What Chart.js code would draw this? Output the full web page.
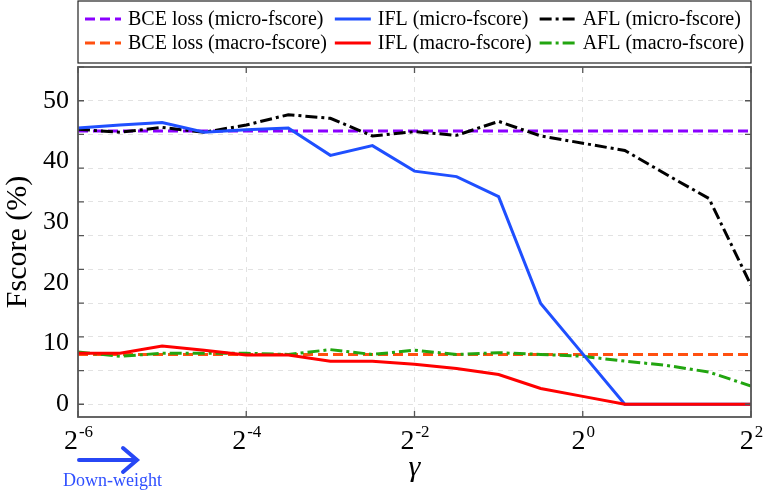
<!DOCTYPE html>
<html>
<head>
<meta charset="utf-8">
<script src="https://cdn.jsdelivr.net/npm/chart.js@4.4.0/dist/chart.umd.min.js"></script>
<style>
  html, body { margin: 0; padding: 0; background: #fff; }
  #wrap { width: 764px; height: 492px; }
</style>
</head>
<body>
<div id="wrap"><canvas id="fscorechart"></canvas></div>
<script>
// x values are log2(gamma)
var gammaexp = [-6, -5.5, -5, -4.5, -4, -3.5, -3, -2.5, -2, -1.5, -1, -0.5, 0, 0.5, 1, 1.5, 2];

var bcemicro = [45.0, 45.0, 45.0, 45.0, 45.0, 45.0, 45.0, 45.0, 45.0, 45.0, 45.0, 45.0, 45.0, 45.0, 45.0, 45.0, 45.0];
var iflmicro = [45.5, 46.0, 46.4, 44.8, 45.2, 45.5, 41.0, 42.6, 38.4, 37.5, 34.2, 16.6, 8.3, 0, 0, 0, 0];
var aflmicro = [45.3, 44.8, 45.6, 44.8, 46.0, 47.7, 47.1, 44.2, 44.9, 44.3, 46.6, 44.2, 43.0, 41.8, 37.8, 33.9, 19.6];
var bcemacro = [8.2, 8.2, 8.2, 8.2, 8.2, 8.2, 8.2, 8.2, 8.2, 8.2, 8.2, 8.2, 8.2, 8.2, 8.2, 8.2, 8.2];
var iflmacro = [8.4, 8.4, 9.6, 8.9, 8.1, 8.1, 7.1, 7.1, 6.6, 5.9, 4.9, 2.6, 1.3, 0, 0, 0, 0];
var aflmacro = [8.6, 7.9, 8.4, 8.4, 8.4, 8.2, 9.0, 8.2, 8.9, 8.2, 8.5, 8.2, 7.9, 7.1, 6.4, 5.3, 3.0];

var xtickexp = [-6, -4, -2, 0, 2];
var ylabels = [0, 10, 20, 30, 40, 50];
var ystep = 50 / 9;   // gridlines split 0..50 into nine parts

var serif = "'Liberation Serif', 'Times New Roman', serif";

function pts(arr) {
    return arr.map(function (v, i) { return { x: gammaexp[i], y: v }; });
}

var ygrid = [];
for (var k = 0; k <= 10; k++) ygrid.push(k * ystep);
var yticks = ygrid.concat(ylabels.filter(function (v) {
    return ygrid.every(function (g) { return Math.abs(g - v) > 1e-6; });
})).sort(function (a, b) { return a - b; });

function isgrid(v) {
    return Math.abs(v / ystep - Math.round(v / ystep)) < 1e-6;
}

// legend order: row 1 micro, row 2 macro
var legendrows = [[0, 1, 2], [3, 4, 5]];

var framePlugin = {
    id: 'frame',
    afterDraw: function (chart) {
        var ctx = chart.ctx, a = chart.chartArea;
        var xs = chart.scales.x, ys = chart.scales.y;
        ctx.save();

        // inward tick marks
        ctx.strokeStyle = '#555';
        ctx.lineWidth = 1.3;
        ctx.beginPath();
        ygrid.forEach(function (v) {
            var p = ys.getPixelForValue(v);
            ctx.moveTo(a.left, p); ctx.lineTo(a.left + 6, p);
            ctx.moveTo(a.right, p); ctx.lineTo(a.right - 6, p);
        });
        xtickexp.forEach(function (v) {
            var p = xs.getPixelForValue(v);
            ctx.moveTo(p, a.bottom); ctx.lineTo(p, a.bottom - 6);
            ctx.moveTo(p, a.top); ctx.lineTo(p, a.top + 6);
        });
        ctx.stroke();
        ctx.lineWidth = 1.8;
        ctx.strokeRect(a.left, a.top, a.right - a.left, a.bottom - a.top);

        // x tick labels: 2 with a superscript exponent
        ctx.fillStyle = '#000';
        ctx.textBaseline = 'alphabetic';
        ctx.textAlign = 'left';
        xtickexp.forEach(function (v) {
            var p = xs.getPixelForValue(v);
            var base = '2', sup = String(v);
            ctx.font = '28px ' + serif;
            var wb = ctx.measureText(base).width;
            ctx.font = '17px ' + serif;
            var ws = ctx.measureText(sup).width;
            var x0 = p - (wb + ws) / 2;
            ctx.font = '28px ' + serif;
            ctx.fillText(base, x0, a.bottom + 32);
            ctx.font = '17px ' + serif;
            ctx.fillText(sup, x0 + wb + 1, a.bottom + 20);
        });

        // legend box
        ctx.strokeStyle = '#222';
        ctx.lineWidth = 1.2;
        ctx.strokeRect(a.left, 1, a.right - a.left, a.top - 5);
        ctx.font = '20px ' + serif;
        ctx.textBaseline = 'middle';
        var dsets = chart.data.datasets;
        var colx = [a.left + 7];
        for (var c = 0; c < 2; c++) {
            var w = 0;
            legendrows.forEach(function (row) {
                w = Math.max(w, ctx.measureText(dsets[row[c]].label).width);
            });
            colx.push(colx[c] + 36 + 7 + w + 8);
        }
        legendrows.forEach(function (row, r) {
            var y = 19 + r * 24;
            row.forEach(function (di, c) {
                var ds = dsets[di];
                ctx.strokeStyle = ds.borderColor;
                ctx.lineWidth = 3;
                ctx.setLineDash(ds.borderDash || []);
                ctx.beginPath();
                ctx.moveTo(colx[c], y);
                ctx.lineTo(colx[c] + 36, y);
                ctx.stroke();
                ctx.setLineDash([]);
                ctx.fillStyle = '#000';
                ctx.fillText(ds.label, colx[c] + 43, y + 1);
            });
        });

        // down-weight arrow
        var ax = xs.getPixelForValue(-6), ay = a.bottom + 43;
        ctx.strokeStyle = '#2747f5';
        ctx.lineWidth = 4;
        ctx.lineCap = 'round';
        ctx.beginPath();
        ctx.moveTo(ax + 1, ay);
        ctx.lineTo(ax + 58, ay);
        ctx.moveTo(ax + 45, ay - 12);
        ctx.lineTo(ax + 59, ay);
        ctx.lineTo(ax + 45, ay + 12);
        ctx.stroke();
        ctx.fillStyle = '#3050ff';
        ctx.font = '18px ' + serif;
        ctx.textAlign = 'left';
        ctx.textBaseline = 'alphabetic';
        ctx.fillText('Down-weight', ax - 15, ay + 26);

        ctx.restore();
    }
};

var fsctx = document.getElementById('fscorechart').getContext('2d');
var fschart = new Chart(fsctx, {
    type: 'line',
    data: {
        datasets: [
            { label: 'BCE loss (micro-fscore)', data: pts(bcemicro), borderColor: '#8a00ff', borderWidth: 3, borderDash: [10, 5], order: 5 },
            { label: 'IFL (micro-fscore)', data: pts(iflmicro), borderColor: '#1f4fff', borderWidth: 3, order: 1 },
            { label: 'AFL (micro-fscore)', data: pts(aflmicro), borderColor: '#000000', borderWidth: 3, borderDash: [12, 4, 3, 4], order: 2 },
            { label: 'BCE loss (macro-fscore)', data: pts(bcemacro), borderColor: '#ff5010', borderWidth: 3, borderDash: [10, 5], order: 4 },
            { label: 'IFL (macro-fscore)', data: pts(iflmacro), borderColor: '#ff0000', borderWidth: 3, order: 0 },
            { label: 'AFL (macro-fscore)', data: pts(aflmacro), borderColor: '#22a510', borderWidth: 3, borderDash: [12, 4, 3, 4], order: 3 }
        ]
    },
    options: {
        responsive: true,
        maintainAspectRatio: false,
        animation: false,
        layout: { padding: { top: 67, right: 13, bottom: 0, left: 0 } },
        elements: { point: { radius: 0 }, line: { tension: 0, fill: false } },
        plugins: { legend: { display: false }, tooltip: { enabled: false } },
        scales: {
            x: {
                type: 'linear', min: -6, max: 2,
                afterBuildTicks: function (s) { s.ticks = xtickexp.map(function (v) { return { value: v }; }); },
                afterFit: function (s) { s.height = 75; },
                grid: { color: '#e2e2e2', lineWidth: 1, drawTicks: false },
                border: { display: false, dash: [5, 5] },
                ticks: { display: false },
                title: { display: true, text: 'γ', color: '#000', font: { family: serif, size: 30, style: 'italic' }, padding: { top: 0, bottom: 6 } }
            },
            y: {
                min: -2.1, max: 500 / 9,
                afterBuildTicks: function (s) { s.ticks = yticks.map(function (v) { return { value: v }; }); },
                afterFit: function (s) { s.width = 78; },
                grid: {
                    color: function (c) { return c.tick && isgrid(c.tick.value) ? '#e2e2e2' : 'rgba(0,0,0,0)'; },
                    lineWidth: 1, drawTicks: false
                },
                border: { display: false, dash: [5, 5] },
                ticks: {
                    autoSkip: false, padding: 9, color: '#000',
                    font: { family: serif, size: 26 },
                    callback: function (v) {
                        return ylabels.some(function (l) { return Math.abs(l - v) < 1e-6; }) ? String(Math.round(v)) : '';
                    }
                },
                title: { display: true, text: 'Fscore (%)', color: '#000', font: { family: serif, size: 30 }, padding: 0 }
            }
        }
    },
    plugins: [framePlugin]
});
</script>
</body>
</html>
